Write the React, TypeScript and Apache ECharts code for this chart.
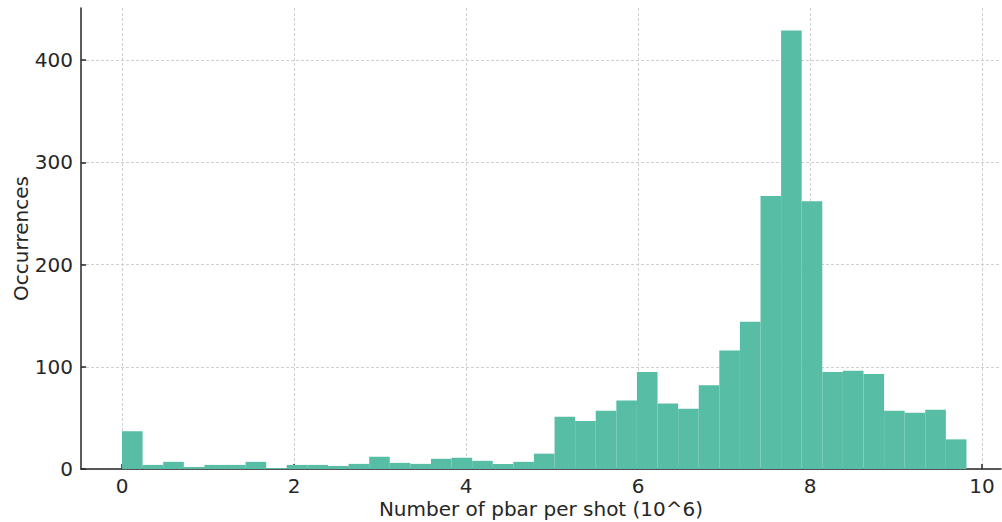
import React, { useEffect, useRef } from "react";
import * as echarts from "echarts";

const BIN_WIDTH = 0.2395;
const counts = [
  37, 4, 7, 2, 4, 4, 7, 1, 4, 4,
  3, 5, 12, 6, 5, 10, 11, 8, 5, 7,
  15, 51, 47, 57, 67, 95, 64, 59, 82, 116,
  144, 267, 429, 262, 95, 96, 93, 57, 55, 58,
  29,
];
const xTicks = [0, 2, 4, 6, 8, 10];
const yTicks = [0, 100, 200, 300, 400];

const FONT = "DejaVu Sans";
const TEXT = "#262626";

export default function App() {
  const ref = useRef<HTMLDivElement>(null);
  useEffect(() => {
    if (!ref.current) return;
    const chart = echarts.init(ref.current, undefined, { renderer: "svg" });
    const data = counts.map((c, i) => [i * BIN_WIDTH, (i + 1) * BIN_WIDTH, c]);
    chart.setOption({
      animation: false,
      backgroundColor: "#ffffff",
      grid: { left: 81, right: 1, top: 8, bottom: 53, containLabel: false, outerBoundsMode: "none" },
      xAxis: {
        type: "value",
        min: -0.477,
        max: 10.221,
        name: "Number of pbar per shot (10^6)",
        nameLocation: "middle",
        nameGap: 30,
        nameMoveOverlap: false,
        nameTextStyle: { fontFamily: FONT, fontSize: 20, color: TEXT },
        axisLine: { show: true, onZero: false, lineStyle: { color: "#262626", width: 1.5 } },
        axisTick: { show: true, inside: true, length: 5, customValues: xTicks, lineStyle: { color: "#262626", width: 1.5 } },
        axisLabel: { customValues: xTicks, fontFamily: FONT, fontSize: 20, color: TEXT, margin: 7 },
        splitLine: { show: true, lineStyle: { color: "#d0d0d0", type: [3, 2], width: 1 } },
      },
      yAxis: {
        type: "value",
        min: 0,
        max: 451,
        name: "Occurrences",
        nameLocation: "middle",
        nameGap: 50,
        nameMoveOverlap: false,
        nameTextStyle: { fontFamily: FONT, fontSize: 20, color: TEXT },
        axisLine: { show: true, onZero: false, lineStyle: { color: "#262626", width: 1.5 } },
        axisTick: { show: true, inside: true, length: 5, customValues: yTicks, lineStyle: { color: "#262626", width: 1.5 } },
        axisLabel: { customValues: yTicks, fontFamily: FONT, fontSize: 20, color: TEXT, margin: 8 },
        splitLine: { show: true, lineStyle: { color: "#d0d0d0", type: [3, 2], width: 1 } },
      },
      series: [
        {
          type: "custom",
          data,
          encode: { x: [0, 1], y: 2 },
          renderItem: (params: any, api: any) => {
            const p0 = api.coord([api.value(0), api.value(2)]);
            const p1 = api.coord([api.value(1), 0]);
            return {
              type: "rect",
              shape: { x: p0[0], y: p0[1], width: p1[0] - p0[0], height: p1[1] - p0[1] },
              style: { fill: "#57bda5" },
            };
          },
        },
      ],
    });
    return () => chart.dispose();
  }, []);
  return (
    <div
      ref={ref}
      style={{ position: "fixed", left: 0, top: 0, width: 1002, height: 522 }}
    />
  );
}
